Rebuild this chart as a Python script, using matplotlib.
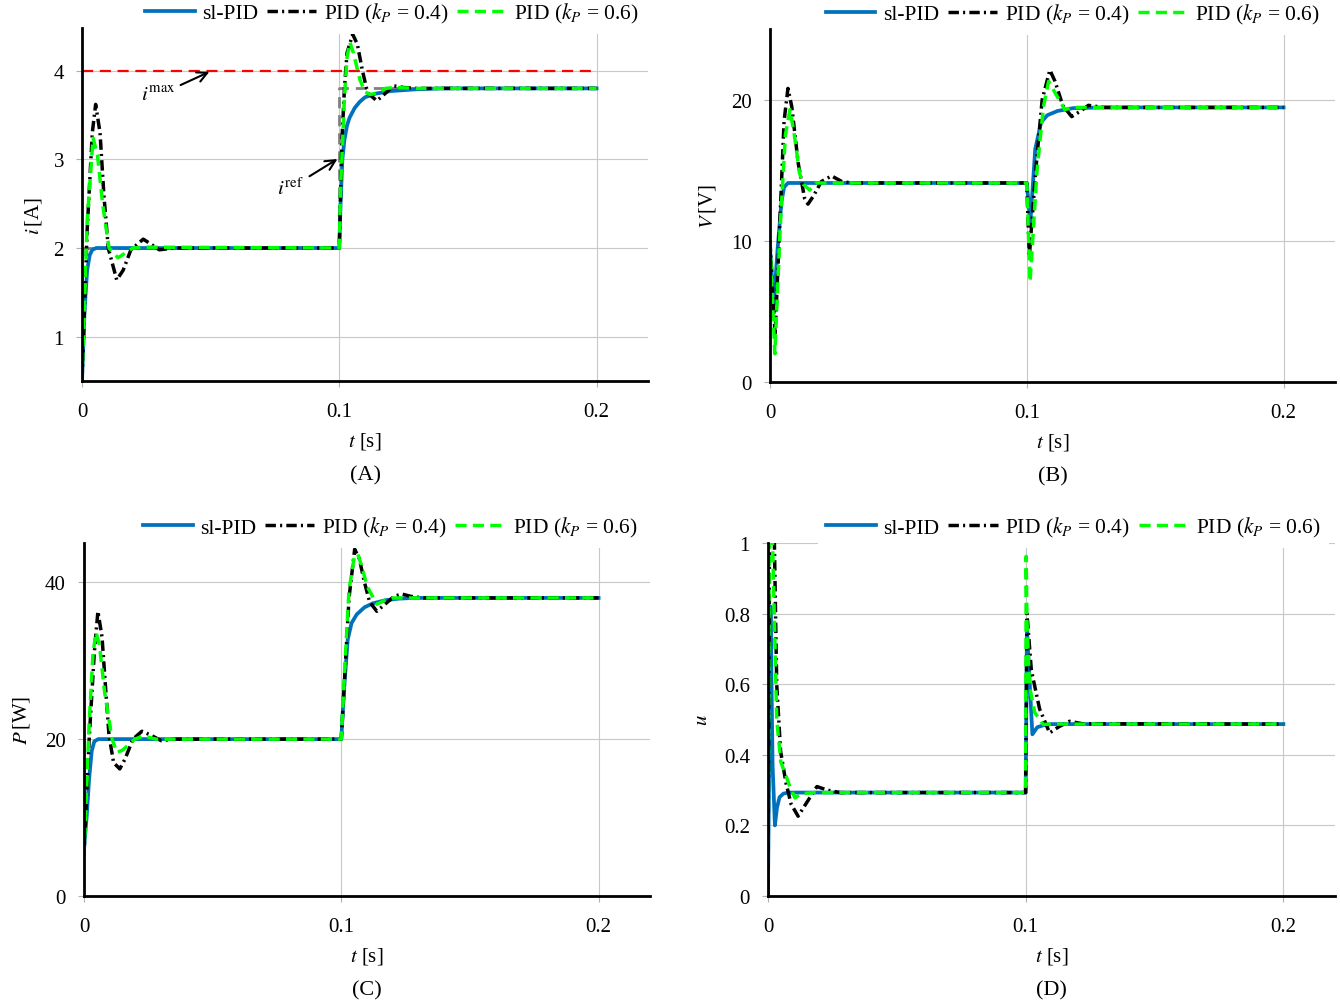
import matplotlib
matplotlib.use("Agg")
import matplotlib.pyplot as plt

plt.rcParams["font.family"] = "serif"
plt.rcParams["font.serif"] = ["Liberation Serif", "DejaVu Serif"]
plt.rcParams["mathtext.fontset"] = "stix"
plt.rcParams["font.size"] = 15

BLUE = "#0072BD"
GREEN = "#00FF00"
labels = ["sl-PID", r"PID ($k_P$ = 0.4)", r"PID ($k_P$ = 0.6)"]
xticks = [0, 0.1, 0.2]
xtick_labels = ["0", "0.1", "0.2"]

# (A) current i [A]
tA_sl = [0, 0.001, 0.002, 0.003, 0.004, 0.0055, 0.1, 0.1005, 0.1012, 0.102, 0.103, 0.104,
         0.106, 0.108, 0.11, 0.114, 0.12, 0.13, 0.14, 0.2]
iA_sl = [0.5, 1.3, 1.75, 1.92, 1.98, 2.0, 2.0, 2.5, 3.0, 3.22, 3.38, 3.47,
         3.58, 3.65, 3.7, 3.74, 3.77, 3.79, 3.8, 3.8]
tA_p4 = [0, 0.002, 0.004, 0.0053, 0.007, 0.0085, 0.0102, 0.0135, 0.016, 0.019, 0.0238,
         0.027, 0.03, 0.036, 0.1, 0.1005, 0.101, 0.102, 0.103, 0.1052, 0.107, 0.109, 0.111,
         0.1146, 0.117, 0.121, 0.125, 0.13, 0.2]
iA_p4 = [0.5, 2.2, 3.3, 3.62, 3.3, 2.6, 2.0, 1.64, 1.75, 1.98, 2.1,
         2.04, 1.98, 2.0, 2.0, 2.6, 3.2, 3.8, 4.2, 4.41, 4.3, 4.0, 3.75,
         3.66, 3.72, 3.83, 3.81, 3.8, 3.8]
tA_p6 = [0, 0.002, 0.0043, 0.006, 0.008, 0.0105, 0.014, 0.0198, 0.024, 0.1, 0.1005, 0.101,
         0.102, 0.103, 0.1041, 0.1055, 0.108, 0.11, 0.112, 0.115, 0.118, 0.122, 0.13, 0.2]
iA_p6 = [0.5, 2.3, 3.24, 3.05, 2.5, 2.0, 1.89, 2.0, 2.01, 2.0, 2.7, 3.0,
         3.7, 4.15, 4.32, 4.2, 3.9, 3.76, 3.73, 3.75, 3.8, 3.81, 3.8, 3.8]
tA_ref = [0, 0.1, 0.1, 0.2]
iA_ref = [2.0, 2.0, 3.8, 3.8]
tA_max = [0, 0.2]
iA_max = [4.0, 4.0]

# (B) voltage V [V]
tB_sl = [0, 0.0015, 0.003, 0.0045, 0.0055, 0.007, 0.1, 0.1014, 0.1033, 0.1056, 0.108,
         0.112, 0.118, 0.13, 0.2]
vB_sl = [9.5, 5.5, 9.5, 12.8, 13.8, 14.1, 14.1, 11.3, 16.5, 18.4, 18.9,
         19.2, 19.4, 19.45, 19.45]
tB_p4 = [0, 0.002, 0.004, 0.0055, 0.007, 0.0085, 0.011, 0.0135, 0.0148, 0.017, 0.02,
         0.024, 0.028, 0.032, 0.1, 0.101, 0.1035, 0.106, 0.109, 0.111, 0.114, 0.1175,
         0.121, 0.124, 0.13, 0.2]
vB_p4 = [10, 3.3, 12, 18.5, 20.8, 19.5, 15.5, 13.0, 12.6, 13.2, 14.2,
         14.6, 14.2, 14.1, 14.1, 8.9, 15, 20, 22.1, 21.3, 19.6, 18.8,
         19.2, 19.6, 19.45, 19.45]
tB_p6 = [0, 0.0019, 0.004, 0.006, 0.0078, 0.0095, 0.0115, 0.013, 0.0155, 0.018, 0.1,
         0.1013, 0.104, 0.1065, 0.1085, 0.111, 0.1148, 0.118, 0.2]
vB_p6 = [10, 2.0, 11, 17.5, 19.3, 17.5, 14.8, 14.0, 13.6, 14.1, 14.1,
         7.1, 15, 19.5, 21.3, 20.5, 19.3, 19.45, 19.45]

# (C) power P [W]
tC_sl = [0, 0.001, 0.002, 0.003, 0.004, 0.0055, 0.1, 0.101, 0.1025, 0.104, 0.106, 0.109,
         0.1122, 0.117, 0.122, 0.128, 0.14, 0.2]
pC_sl = [6, 10, 15, 18.5, 19.7, 20, 20, 26, 32.7, 34.8, 35.9, 36.8,
         37.3, 37.7, 37.9, 38.0, 38.0, 38.0]
tC_p4 = [0, 0.002, 0.004, 0.0054, 0.007, 0.0085, 0.0097, 0.0115, 0.0139, 0.016, 0.019,
         0.0225, 0.026, 0.03, 0.035, 0.1, 0.101, 0.103, 0.1052, 0.107, 0.109, 0.111,
         0.1138, 0.117, 0.1205, 0.1235, 0.127, 0.132, 0.2]
pC_p4 = [5.6, 20, 31, 36.3, 33, 26, 20.5, 17, 16.2, 17.5, 20,
         21.0, 20.5, 19.8, 20, 20, 26, 38, 44.2, 43, 40, 37.5,
         36.3, 37.2, 38.2, 38.5, 38.2, 38, 38]
tC_p6 = [0, 0.002, 0.0035, 0.0047, 0.006, 0.008, 0.0109, 0.0128, 0.015, 0.0198, 0.023,
         0.028, 0.1, 0.101, 0.103, 0.105, 0.1064, 0.108, 0.11, 0.1138, 0.117, 0.12, 0.2]
pC_p6 = [5.1, 22, 31, 33.6, 32, 26, 20, 18.3, 18.6, 20, 20.4,
         20, 20, 27, 39, 43.2, 43.6, 42, 39.5, 37.2, 37.7, 38, 38]

# (D) control input u
tD_sl = [0, 0.001, 0.0018, 0.0027, 0.0035, 0.0045, 0.006, 0.008, 0.1, 0.1005, 0.1026,
         0.1045, 0.107, 0.11, 0.2]
uD_sl = [0, 0.82, 0.37, 0.2, 0.25, 0.28, 0.29, 0.293, 0.293, 0.755, 0.458,
         0.478, 0.484, 0.487, 0.487]
tD_p4 = [0, 0.0006, 0.0025, 0.0034, 0.0049, 0.007, 0.009, 0.0117, 0.0155, 0.019, 0.023,
         0.028, 0.1, 0.1005, 0.1022, 0.1054, 0.1093, 0.113, 0.117, 0.122, 0.2]
uD_p4 = [0, 1.0, 1.0, 0.6, 0.41, 0.32, 0.26, 0.226, 0.27, 0.31, 0.3,
         0.293, 0.293, 0.80, 0.64, 0.53, 0.462, 0.48, 0.495, 0.488, 0.487]
tD_p6 = [0, 0.0005, 0.0018, 0.0026, 0.0034, 0.005, 0.0085, 0.0105, 0.013, 0.018, 0.1,
         0.1002, 0.1005, 0.1015, 0.1035, 0.1068, 0.11, 0.2]
uD_p6 = [0, 1.0, 1.0, 0.75, 0.5, 0.38, 0.31, 0.278, 0.29, 0.293, 0.293,
         0.962, 0.78, 0.594, 0.52, 0.486, 0.487, 0.487]


def style_axes(ax, ylim, yticks, ylabel, ylabel_pos, caption):
    ax.set_xlim(0, 0.22)
    ax.set_ylim(*ylim)
    ax.set_xticks(xticks, labels=xtick_labels)
    ax.set_yticks(yticks, labels=[f"{v:g}" for v in yticks])
    for side in ["top", "right"]:
        ax.spines[side].set_visible(False)
    for side in ["left", "bottom"]:
        ax.spines[side].set_linewidth(2.0)
        ax.spines[side].set_zorder(5)
    ax.grid(True, color="#c8c8c8", linewidth=0.8)
    ax.set_axisbelow(True)
    ax.tick_params(axis="both", length=4, width=0.8, color="#b0b0b0", labelsize=15)
    ax.tick_params(axis="x", pad=11)
    ax.tick_params(axis="y", pad=9)
    ax.set_ylabel(ylabel, fontsize=15, va="center")
    ax.yaxis.set_label_coords(*ylabel_pos)
    ax.text(0.5, -0.168, r"$t$ [s]", transform=ax.transAxes, ha="center", va="center", fontsize=15)
    ax.text(0.5, -0.265, caption, transform=ax.transAxes, ha="center", va="center", fontsize=16)


def plot_three(ax, t1, y1, t2, y2, t3, y3, legend_x, legend_y):
    l1, = ax.plot(t1, y1, color=BLUE, lw=2.7, zorder=3)
    l2, = ax.plot(t2, y2, color="black", lw=2.5, linestyle=(0, (3.0, 1.2, 0.6, 1.2)), zorder=3)
    l3, = ax.plot(t3, y3, color=GREEN, lw=2.5, linestyle=(0, (3.2, 1.8)), zorder=4)
    leg = ax.legend([l1, l2, l3], labels, loc="center right", bbox_to_anchor=(legend_x, legend_y),
                    ncol=3, frameon=True, fancybox=False, edgecolor="none", facecolor="white",
                    framealpha=1.0, handlelength=2.3, handletextpad=0.35, columnspacing=0.4,
                    borderaxespad=0.0, borderpad=0.4, fontsize=15.5)
    leg.set_zorder(10)


fig = plt.figure(figsize=(13.4, 10.03), dpi=100)

axA = fig.add_axes([0.0612, 0.6191, 0.4224, 0.3519])
axB = fig.add_axes([0.5746, 0.6181, 0.4216, 0.3519])
axC = fig.add_axes([0.0627, 0.1057, 0.4224, 0.3519])
axD = fig.add_axes([0.5731, 0.1057, 0.4231, 0.3519])

# panel A
axA.plot(tA_max, iA_max, color="red", lw=1.6, linestyle=(0, (5, 3)), zorder=2)
axA.plot(tA_ref, iA_ref, color="gray", lw=2.0, linestyle=(0, (4, 2.5)), zorder=2)
plot_three(axA, tA_sl, iA_sl, tA_p4, iA_p4, tA_p6, iA_p6, 1.0, 1.043)
axA.annotate(r"$i^{\mathrm{max}}$", xy=(0.0505, 4.0), xytext=(0.0295, 3.72),
             ha="center", va="center", fontsize=15,
             arrowprops=dict(arrowstyle="->", lw=1.5, color="black", mutation_scale=18))
axA.annotate(r"$i^{\mathrm{ref}}$", xy=(0.1002, 3.02), xytext=(0.0812, 2.68),
             ha="center", va="center", fontsize=15,
             arrowprops=dict(arrowstyle="->", lw=1.5, color="black", mutation_scale=18))
style_axes(axA, (0.5, 4.48), [1, 2, 3, 4], r"$i\,$[A]", (-0.085, 0.47), "(A)")

# panel B
plot_three(axB, tB_sl, vB_sl, tB_p4, vB_p4, tB_p6, vB_p6, 0.989, 1.043)
style_axes(axB, (0, 25), [0, 10, 20], r"$V\,$[V]", (-0.11, 0.5), "(B)")

# panel C
plot_three(axC, tC_sl, pC_sl, tC_p4, pC_p4, tC_p6, pC_p6, 0.993, 1.045)
style_axes(axC, (0, 45), [0, 20, 40], r"$P\,$[W]", (-0.11, 0.5), "(C)")

# panel D
plot_three(axD, tD_sl, uD_sl, tD_p4, uD_p4, tD_p6, uD_p6, 0.99, 1.045)
style_axes(axD, (0, 1), [0, 0.2, 0.4, 0.6, 0.8, 1], r"$u$", (-0.115, 0.5), "(D)")

fig.savefig("out.png", dpi=100)
plt.close(fig)
